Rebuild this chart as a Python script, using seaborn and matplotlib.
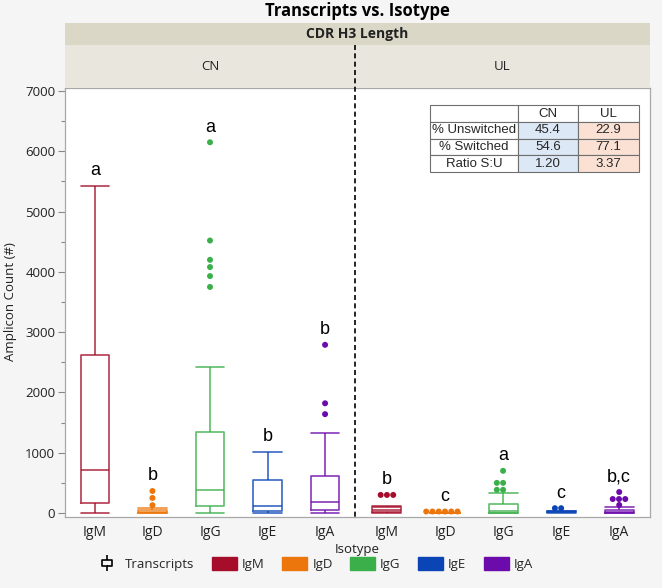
import numpy as np
import pandas as pd
import matplotlib.pyplot as plt
import seaborn as sns
from matplotlib.cbook import boxplot_stats
from matplotlib.patches import Rectangle, Patch
from matplotlib.lines import Line2D
from matplotlib.path import Path

# categories
isotypes = ['IgM', 'IgD', 'IgG', 'IgE', 'IgA']
groups = ['CN', 'UL']
colors = {'IgM': '#a50d2b', 'IgD': '#ec760c', 'IgG': '#3bb04a', 'IgE': '#0b45b5', 'IgA': '#6c0bab'}

# amplicon counts per sample
cn_igm = [0, 90, 170, 400, 720, 1500, 2620, 4000, 5430]
cn_igd = [0, 0, 0, 0, 0, 5, 10, 15, 20, 25, 30, 40, 50, 80, 130, 250, 365]
cn_igg = [0, 10, 20, 40, 60, 80, 95, 110, 150, 200, 240, 280, 320, 350, 380,
          450, 550, 700, 850, 1000, 1200, 1350, 2420, 3750, 3930, 4080, 4200, 4520, 6150]
cn_ige = [0, 5, 30, 70, 120, 300, 540, 800, 1020]
cn_iga = [0, 10, 20, 35, 50, 80, 110, 150, 180, 250, 350, 480, 620, 1330, 1640, 1820, 2790]

ul_igm = [0, 5, 8, 12, 15, 25, 35, 45, 50, 60, 70, 85, 95, 110, 300, 300, 300]
ul_igd = [0, 0, 0, 0, 0, 0, 0, 0, 0, 0, 0, 0, 0, 0, 0, 0, 0, 0, 0,
          25, 25, 25, 25, 25, 25]
ul_igg = [0, 0, 0, 0, 2, 3, 5, 8, 12, 18, 25, 32, 40, 55, 70, 90, 110, 130, 150,
          330, 385, 385, 500, 500, 700]
ul_ige = [0, 5, 8, 10, 12, 15, 20, 22, 25, 30, 35, 80, 80]
ul_iga = [0, 0, 0, 0, 0, 0, 0, 3, 5, 8, 10, 15, 20, 25, 30, 35, 40, 45, 50,
          100, 133, 232, 232, 232, 348]

letters_cn = ['a', 'b', 'a', 'b', 'b']
letters_ul = ['b', 'c', 'a', 'c', 'b,c']

table_rows = ['% Unswitched', '% Switched', 'Ratio S:U']
table_cn = ['45.4', '54.6', '1.20']
table_ul = ['22.9', '77.1', '3.37']

samples = {
    'CN': [cn_igm, cn_igd, cn_igg, cn_ige, cn_iga],
    'UL': [ul_igm, ul_igd, ul_igg, ul_ige, ul_iga],
}
letters = {'CN': letters_cn, 'UL': letters_ul}

rows = []
for g in groups:
    for iso, vals in zip(isotypes, samples[g]):
        for v in vals:
            rows.append((g, iso, v))
df = pd.DataFrame(rows, columns=['group', 'isotype', 'count'])

sns.set_theme(style='white')
plt.rcParams['font.family'] = ['Open Sans', 'DejaVu Sans']

W, H = 662, 588
fig = plt.figure(figsize=(W / 100, H / 100), dpi=100)
fig.patch.set_facecolor('#f5f5f5')

def fx(px):
    return px / W

def fy(py):
    return 1 - py / H

top, bottom = 88, 517
ax_cn = fig.add_axes([fx(65), fy(bottom), fx(290), (bottom - top) / H])
ax_ul = fig.add_axes([fx(355), fy(bottom), fx(295), (bottom - top) / H], sharey=ax_cn)

for g, ax in zip(groups, [ax_cn, ax_ul]):
    sub = df[df['group'] == g]
    ax.set_ylim(-66, 7050)
    sns.boxplot(data=sub, x='isotype', y='count', hue='isotype', order=isotypes,
                hue_order=isotypes, palette=colors, saturation=1, fill=False,
                width=0.5, linewidth=1.2, whis=1.5, showfliers=False,
                legend=False, capwidths=0.5, ax=ax)
    for ln in ax.lines:
        ln.set_alpha(0.82)

    # outliers beyond 1.5 IQR, drawn as side-by-side dots
    fl = []
    for iso in isotypes:
        vals = sub.loc[sub['isotype'] == iso, 'count'].values
        for v in boxplot_stats(vals, whis=1.5)[0]['fliers']:
            fl.append((iso, v))
    fl_df = pd.DataFrame(fl, columns=['isotype', 'count'])
    sns.swarmplot(data=fl_df, x='isotype', y='count', hue='isotype', order=isotypes,
                  hue_order=isotypes, palette=colors, size=4.3, legend=False, ax=ax)

    for i, iso in enumerate(isotypes):
        vmax = sub.loc[sub['isotype'] == iso, 'count'].max()
        ax.text(i, vmax + 110, letters[g][i], ha='center', va='bottom', fontsize=13,
                family='Liberation Sans', color='black')

    ax.set_ylim(-66, 7050)
    ax.set_xlabel('')
    ax.set_ylabel('')
    ax.set_facecolor('white')
    for s in ax.spines.values():
        s.set_color('#a8a8a8')
        s.set_linewidth(0.9)
    ax.tick_params(axis='x', length=0, labelsize=10, colors='#222222', pad=6)

ax_cn.set_xlim(-0.52, 4.52)
ax_ul.set_xlim(-0.55, 4.53)
ax_cn.set_yticks(np.arange(0, 7001, 1000))
ax_cn.set_yticks(np.arange(500, 7000, 1000), minor=True)
ax_cn.tick_params(axis='y', which='major', left=True, length=5, width=0.8,
                  color='#888888', labelsize=9.5, labelcolor='#222222', pad=2)
ax_cn.tick_params(axis='y', which='minor', left=True, length=3, width=0.8, color='#888888')
ax_ul.tick_params(axis='y', which='both', left=False, labelleft=False)
ax_ul.spines['left'].set_visible(False)
ax_cn.spines['right'].set_visible(False)

# table with switched / unswitched proportions
cell_text = [['', 'CN', 'UL']] + [[r, c, u] for r, c, u in zip(table_rows, table_cn, table_ul)]
cell_col = [['white', 'white', 'white']] + [['white', '#dce8f6', '#fbe1d4']] * 3
tb = ax_ul.table(cellText=cell_text, cellColours=cell_col, cellLoc='center',
                 colWidths=[0.42, 0.29, 0.29], bbox=[0.254, 0.804, 0.708, 0.156])
tb.auto_set_font_size(False)
for (r, c), cell in tb.get_celld().items():
    cell.set_edgecolor('#6e6e6e')
    cell.set_linewidth(0.8)
    cell.get_text().set_fontsize(9.5)
    cell.get_text().set_family('Liberation Sans')

# header bands
band_x0, band_x1 = 65, 650
fig.add_artist(Rectangle((fx(band_x0), fy(45)), fx(band_x1 - band_x0), 22 / H,
                         transform=fig.transFigure, facecolor='#dad7c7', edgecolor='none'))
fig.add_artist(Rectangle((fx(band_x0), fy(88)), fx(band_x1 - band_x0), 43 / H,
                         transform=fig.transFigure, facecolor='#e8e6dd', edgecolor='none'))
fig.text(fx(357), fy(34), 'CDR H3 Length', ha='center', va='center', fontsize=10,
         fontweight='bold', color='#222222')
fig.text(fx(210), fy(66), 'CN', ha='center', va='center', fontsize=9.5, color='#222222')
fig.text(fx(502), fy(66), 'UL', ha='center', va='center', fontsize=9.5, color='#222222')
fig.add_artist(Line2D([fx(355), fx(355)], [fy(45), fy(517)], transform=fig.transFigure,
                      color='black', linestyle=(0, (3, 2)), linewidth=1.2))

fig.text(fx(357), fy(11), 'Transcripts vs. Isotype', ha='center', va='center',
         fontsize=12, fontweight='bold', color='black')
fig.text(fx(11), fy(302), 'Amplicon Count (#)', ha='center', va='center', rotation=90,
         fontsize=9.5, color='#222222')
fig.text(fx(357), fy(549), 'Isotype', ha='center', va='center', fontsize=9.5, color='#222222')

# legend
icon = Path([(0, -1), (0, -0.4), (-0.7, -0.4), (-0.7, 0.4), (0.7, 0.4), (0.7, -0.4),
             (0, -0.4), (0, 0.4), (0, 1)],
            [Path.MOVETO, Path.LINETO, Path.LINETO, Path.LINETO, Path.LINETO, Path.LINETO,
             Path.LINETO, Path.MOVETO, Path.LINETO])
handles = [Line2D([], [], marker=icon, markersize=11, linestyle='none', color='black',
                  markerfacecolor='none', markeredgewidth=1.2)]
handles += [Patch(facecolor=colors[i], edgecolor=colors[i]) for i in isotypes]
fig.legend(handles, ['Transcripts'] + isotypes, loc='center', bbox_to_anchor=(fx(314), fy(564)),
           ncol=6, frameon=False, fontsize=9.5, handlelength=1.9, handleheight=1.2,
           columnspacing=1.3, handletextpad=0.4)

fig.savefig('out.png', dpi=100, facecolor=fig.get_facecolor())
